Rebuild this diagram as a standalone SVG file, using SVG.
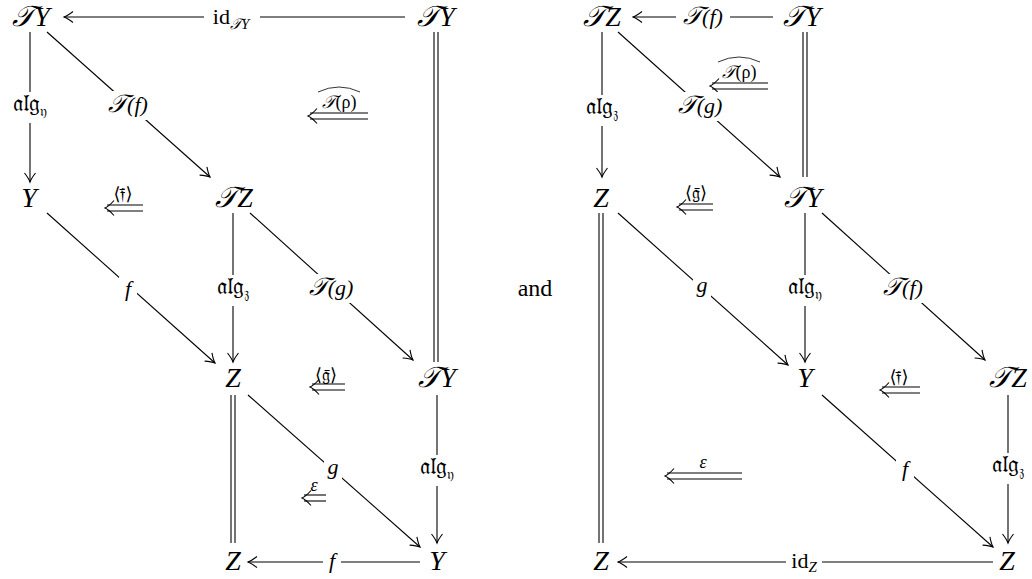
<svg xmlns="http://www.w3.org/2000/svg" width="1032" height="579" viewBox="0 0 1032 579">
<style>
.n{font-family:"Liberation Serif","DejaVu Serif",serif;font-style:italic;font-size:28px;text-anchor:middle}
.T{font-size:29px}
.l{font-family:"Liberation Serif","DejaVu Serif",serif;font-style:italic;font-size:22px;text-anchor:middle}
.lt{font-size:25px}
.a{font-family:"Liberation Serif","DejaVu Serif",serif;font-style:normal;font-size:24px;text-anchor:middle}
.sb{font-size:15px}
.s{font-family:"Liberation Serif","DejaVu Serif",serif;font-size:18px;text-anchor:middle}
.c line,.c path{stroke:#000;stroke-width:1.1;fill:none}
.bg{fill:#fff}
</style>
<defs>
<marker id="ah" markerUnits="userSpaceOnUse" markerWidth="12" markerHeight="14" viewBox="-10 -7 11 14" refX="0" refY="0" orient="auto">
<path d="M-9,-5.5 C-5.5,-2.8 -2,-0.7 0,0 C-2,0.7 -5.5,2.8 -9,5.5" stroke="#000" stroke-width="1.1" fill="none"/>
</marker>
<path id="dh" d="M9,-7.5 C5.5,-3.5 2,-0.9 0,0 C2,0.9 5.5,3.5 9,7.5" stroke="#000" stroke-width="1.1" fill="none"/>
</defs>

<g id="connectors" class="c">
<!-- left diagram -->
<line x1="405" y1="17" x2="64" y2="17" marker-end="url(#ah)"/>
<line x1="30" y1="32" x2="30" y2="182" marker-end="url(#ah)"/>
<line x1="47" y1="32" x2="210" y2="177" marker-end="url(#ah)"/>
<line x1="434" y1="32" x2="434" y2="362"/><line x1="438" y1="32" x2="438" y2="362"/>
<line x1="47" y1="213" x2="215" y2="363" marker-end="url(#ah)"/>
<line x1="233" y1="213" x2="233" y2="362" marker-end="url(#ah)"/>
<line x1="250" y1="213" x2="413" y2="360" marker-end="url(#ah)"/>
<line x1="231" y1="395" x2="231" y2="543"/><line x1="235" y1="395" x2="235" y2="543"/>
<line x1="248" y1="395" x2="420" y2="547" marker-end="url(#ah)"/>
<line x1="437" y1="395" x2="437" y2="543" marker-end="url(#ah)"/>
<line x1="420" y1="562" x2="248" y2="562" marker-end="url(#ah)"/>
<!-- right diagram -->
<line x1="773" y1="17" x2="633" y2="17" marker-end="url(#ah)"/>
<line x1="602" y1="32" x2="602" y2="177" marker-end="url(#ah)"/>
<line x1="618" y1="32" x2="780" y2="177" marker-end="url(#ah)"/>
<line x1="803" y1="32" x2="803" y2="177"/><line x1="807" y1="32" x2="807" y2="177"/>
<line x1="599" y1="213" x2="599" y2="543"/><line x1="603" y1="213" x2="603" y2="543"/>
<line x1="618" y1="213" x2="788" y2="365" marker-end="url(#ah)"/>
<line x1="805" y1="213" x2="805" y2="362" marker-end="url(#ah)"/>
<line x1="822" y1="213" x2="985" y2="360" marker-end="url(#ah)"/>
<line x1="822" y1="395" x2="993" y2="547" marker-end="url(#ah)"/>
<line x1="1008" y1="395" x2="1008" y2="543" marker-end="url(#ah)"/>
<line x1="993" y1="562" x2="618" y2="562" marker-end="url(#ah)"/>

<!-- 2-cells (double arrows) -->
<line x1="310" y1="113" x2="368" y2="113"/><line x1="310" y1="119" x2="368" y2="119"/><use href="#dh" x="308" y="116"/>
<line x1="107" y1="205" x2="143" y2="205"/><line x1="107" y1="211" x2="143" y2="211"/><use href="#dh" x="105" y="208"/>
<line x1="312" y1="384" x2="345" y2="384"/><line x1="312" y1="390" x2="345" y2="390"/><use href="#dh" x="310" y="387"/>
<line x1="304" y1="495" x2="326" y2="495"/><line x1="304" y1="501" x2="326" y2="501"/><use href="#dh" x="302" y="498"/>
<line x1="712" y1="83" x2="768" y2="83"/><line x1="712" y1="89" x2="768" y2="89"/><use href="#dh" x="710" y="86"/>
<line x1="679" y1="204" x2="713" y2="204"/><line x1="679" y1="210" x2="713" y2="210"/><use href="#dh" x="677" y="207"/>
<line x1="882" y1="387" x2="920" y2="387"/><line x1="882" y1="393" x2="920" y2="393"/><use href="#dh" x="880" y="390"/>
<line x1="667" y1="473" x2="742" y2="473"/><line x1="667" y1="479" x2="742" y2="479"/><use href="#dh" x="665" y="476"/>

<!-- arrow label backgrounds -->
<g class="bg" stroke="none">
<rect x="204" y="5" width="56" height="26"/>
<rect x="6" y="92" width="48" height="31"/>
<rect x="101" y="91" width="54" height="29"/>
<rect x="119" y="277" width="18" height="27"/>
<rect x="209" y="275" width="48" height="31"/>
<rect x="304" y="274" width="54" height="29"/>
<rect x="324" y="457" width="18" height="27"/>
<rect x="413" y="455" width="48" height="31"/>
<rect x="323" y="549" width="18" height="27"/>
<rect x="676" y="4" width="54" height="27"/>
<rect x="578" y="95" width="48" height="31"/>
<rect x="673" y="92" width="54" height="29"/>
<rect x="693" y="275" width="18" height="27"/>
<rect x="781" y="275" width="48" height="31"/>
<rect x="876" y="274" width="54" height="29"/>
<rect x="896" y="457" width="18" height="27"/>
<rect x="984" y="453" width="48" height="31"/>
<rect x="786" y="549" width="36" height="27"/>
</g>
</g>

<g id="labels">
<text class="a" x="231" y="24" style="font-size:22px">id<tspan class="sb" font-style="italic" dy="5">𝒯Y</tspan></text>
<text class="a" x="30" y="111">𝔞𝔩𝔤<tspan class="sb" dy="5">𝔶</tspan></text>
<text class="l" x="128" y="112"><tspan class="lt">𝒯</tspan>(f)</text>
<text class="l" x="128" y="296">f</text>
<text class="a" x="233" y="294">𝔞𝔩𝔤<tspan class="sb" dy="5">𝔷</tspan></text>
<text class="l" x="331" y="295"><tspan class="lt">𝒯</tspan>(g)</text>
<text class="l" x="333" y="474">g</text>
<text class="a" x="437" y="474">𝔞𝔩𝔤<tspan class="sb" dy="5">𝔶</tspan></text>
<text class="l" x="332" y="568">f</text>
<text class="l" x="703" y="24"><tspan class="lt">𝒯</tspan>(f)</text>
<text class="a" x="602" y="114">𝔞𝔩𝔤<tspan class="sb" dy="5">𝔷</tspan></text>
<text class="l" x="700" y="113"><tspan class="lt">𝒯</tspan>(g)</text>
<text class="l" x="702" y="292">g</text>
<text class="a" x="805" y="294">𝔞𝔩𝔤<tspan class="sb" dy="5">𝔶</tspan></text>
<text class="l" x="903" y="295"><tspan class="lt">𝒯</tspan>(f)</text>
<text class="l" x="905" y="476">f</text>
<text class="a" x="1008" y="472">𝔞𝔩𝔤<tspan class="sb" dy="5">𝔷</tspan></text>
<text class="a" x="804" y="568" style="font-size:22px">id<tspan class="sb" font-style="italic" dy="4">Z</tspan></text>
<!-- 2-cell labels -->
<text class="s" x="339" y="108"><tspan font-style="italic">𝒯</tspan>(ρ)</text>
<path d="M318,92 Q339,82 360,92" stroke="#000" stroke-width="0.8" fill="none"/>
<text class="s" x="123" y="200">⟨𝔣̄⟩</text>
<text class="s" x="326" y="381">⟨𝔤̄⟩</text>
<text class="s" x="314" y="491" font-style="italic">ε</text>
<text class="s" x="739" y="78"><tspan font-style="italic">𝒯</tspan>(ρ)</text>
<path d="M718,62 Q739,52 760,62" stroke="#000" stroke-width="0.8" fill="none"/>
<text class="s" x="696" y="199">⟨𝔤̄⟩</text>
<text class="s" x="899" y="383">⟨𝔣̄⟩</text>
<text class="s" x="703" y="468" font-style="italic">ε</text>
</g>

<g id="L_TY1"><text class="n" x="31" y="26"><tspan class="T">𝒯</tspan>Y</text></g>
<g id="L_TY2"><text class="n" x="436" y="26"><tspan class="T">𝒯</tspan>Y</text></g>
<g id="L_Y1"><text class="n" x="29" y="207">Y</text></g>
<g id="L_TZ"><text class="n" x="234" y="207"><tspan class="T">𝒯</tspan>Z</text></g>
<g id="L_Z1"><text class="n" x="233" y="387">Z</text></g>
<g id="L_TY3"><text class="n" x="437" y="387"><tspan class="T">𝒯</tspan>Y</text></g>
<g id="L_Z2"><text class="n" x="233" y="570">Z</text></g>
<g id="L_Y2"><text class="n" x="437" y="570">Y</text></g>

<g id="and"><text x="535" y="296" font-family="'Liberation Serif', serif" font-size="24" text-anchor="middle">and</text></g>

<g id="R_TZ1"><text class="n" x="602" y="26"><tspan class="T">𝒯</tspan>Z</text></g>
<g id="R_TY1"><text class="n" x="802" y="26"><tspan class="T">𝒯</tspan>Y</text></g>
<g id="R_Z1"><text class="n" x="601" y="207">Z</text></g>
<g id="R_TY2"><text class="n" x="803" y="207"><tspan class="T">𝒯</tspan>Y</text></g>
<g id="R_Y"><text class="n" x="805" y="387">Y</text></g>
<g id="R_TZ2"><text class="n" x="1008" y="387"><tspan class="T">𝒯</tspan>Z</text></g>
<g id="R_Z2"><text class="n" x="601" y="570">Z</text></g>
<g id="R_Z3"><text class="n" x="1007" y="570">Z</text></g>
</svg>
